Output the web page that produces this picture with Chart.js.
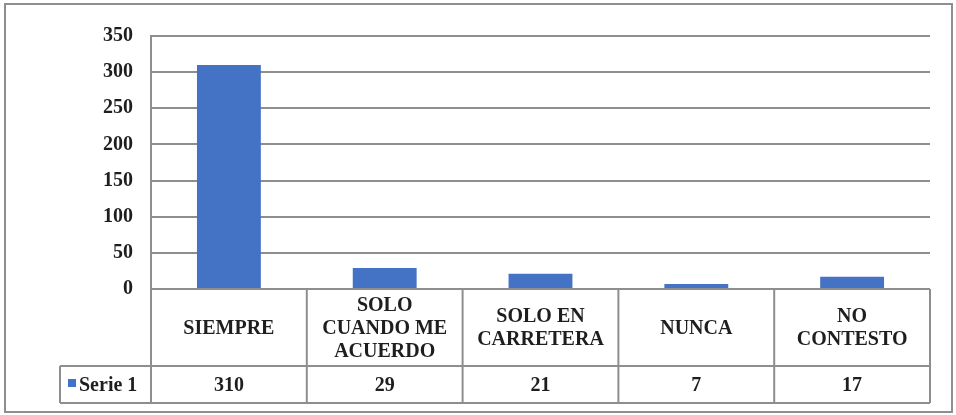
<!DOCTYPE html>
<html>
<head>
<meta charset="utf-8">
<script src="https://cdn.jsdelivr.net/npm/chart.js@4.4.1/dist/chart.umd.min.js"></script>
<style>
  html, body { margin: 0; padding: 0; background: #fff; }
  #wrap { position: relative; width: 956px; height: 415px; }
</style>
</head>
<body>
<div id="wrap"><canvas id="myChart" width="956" height="415"></canvas></div>
<script>
let categories = [["SIEMPRE"], ["SOLO", "CUANDO ME", "ACUERDO"], ["SOLO EN", "CARRETERA"], ["NUNCA"], ["NO", "CONTESTO"]]
let seriesName = "Serie 1"
let values = [310, 29, 21, 7, 17]
let yTicks = [0, 50, 100, 150, 200, 250, 300, 350]

const FAMILY = '"Liberation Serif", "Times New Roman", serif'
const FONT = 'bold 20px ' + FAMILY
const LINE = "#8e8e8e"
const BLUE = "#4472C4"
const TEXT = "#1e1e1e"

// draws the data table under the plot plus the outer frame
const tablePlugin = {
    id: 'dataTable',
    afterDraw(chart) {
        let ctx = chart.ctx
        let area = chart.chartArea
        let x = chart.scales.x
        let n = categories.length
        let step = (area.right - area.left) / n
        let rowTop = area.bottom
        let rowMid = area.bottom + 77
        let rowBot = rowMid + 37
        let legendLeft = 60

        ctx.save()
        ctx.strokeStyle = LINE
        ctx.lineWidth = 2

        ctx.beginPath()
        ctx.moveTo(legendLeft, rowMid); ctx.lineTo(area.right, rowMid)
        ctx.moveTo(legendLeft, rowBot); ctx.lineTo(area.right, rowBot)
        ctx.moveTo(legendLeft, rowMid); ctx.lineTo(legendLeft, rowBot)
        for (let i = 0; i <= n; i++) {
            let px = area.left + i * step
            ctx.moveTo(px, rowTop); ctx.lineTo(px, rowBot)
        }
        ctx.stroke()

        // outer frame
        ctx.beginPath()
        ctx.rect(5, 4, 947, 408)
        ctx.stroke()

        ctx.fillStyle = TEXT
        ctx.font = FONT
        ctx.textAlign = 'center'
        ctx.textBaseline = 'middle'
        categories.forEach(function (lines, i) {
            let cx = x.getPixelForValue(i)
            let cy = (rowTop + rowMid) / 2 + 1
            let lh = 23
            let start = cy - (lines.length - 1) * lh / 2
            lines.forEach(function (l, j) {
                ctx.fillText(l, cx, start + j * lh)
            })
            ctx.fillText(String(values[i]), cx, (rowMid + rowBot) / 2 + 1)
        })

        ctx.fillStyle = BLUE
        ctx.fillRect(68, 379, 8, 8)
        ctx.fillStyle = TEXT
        ctx.textAlign = 'left'
        ctx.fillText(seriesName, 79, (rowMid + rowBot) / 2 + 1)
        ctx.restore()
    }
}

new Chart("myChart", {
    type: "bar",
    data: {
        labels: categories,
        datasets: [{
            label: seriesName,
            data: values,
            backgroundColor: BLUE,
            barPercentage: 0.41,
            categoryPercentage: 1
        }]
    },
    options: {
        responsive: false,
        animation: false,
        layout: { padding: { top: 36, right: 26, bottom: 126, left: 0 } },
        plugins: {
            legend: { display: false },
            tooltip: { enabled: false }
        },
        scales: {
            x: {
                display: false
            },
            y: {
                min: 0,
                max: 350,
                afterFit: function (scale) { scale.width = 151 },
                afterBuildTicks: function (scale) {
                    scale.ticks = yTicks.map(v => ({ value: v }))
                },
                ticks: {
                    padding: 18,
                    color: TEXT,
                    font: { family: FAMILY, size: 20, weight: 'bold' }
                },
                grid: { color: LINE, lineWidth: 2, drawTicks: false },
                border: { display: true, color: LINE, width: 2 }
            }
        }
    },
    plugins: [tablePlugin]
});
</script>
</body>
</html>
